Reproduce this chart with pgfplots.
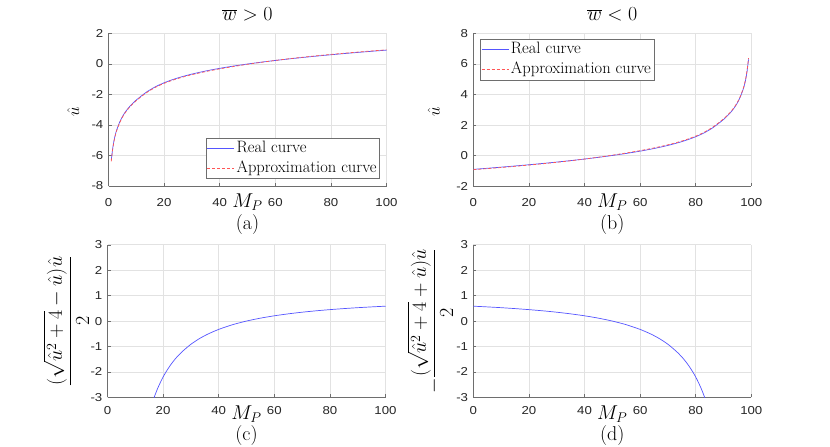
\documentclass[border=0pt]{standalone}
\usepackage{fix-cm}
\usepackage{fontspec}
\usepackage{pgfplots}
\pgfplotsset{compat=1.18}
\newfontfamily\tickfam[FakeStretch=1.15]{Liberation Sans}
\definecolor{axc}{RGB}{110,110,110}
\definecolor{gridc}{RGB}{226,226,226}
\definecolor{tickc}{RGB}{38,38,38}
\definecolor{realc}{RGB}{85,85,255}
\definecolor{appc}{RGB}{255,85,85}
\definecolor{legc}{RGB}{110,110,110}
\pgfplotsset{
 legend image code/.code={\draw[#1] (0pt,0pt) -- (27pt,0pt);},
 myax/.style={
  scale only axis, width=278pt, height=152.5pt,
  xmin=0, xmax=100, xtick={0,20,40,60,80,100},
  axis x line=bottom, axis y line=left,
  axis line style={-, draw=axc, line width=0.7pt},
  tick align=inside, major tick length=3pt,
  tick style={draw=axc, line width=0.5pt},
  grid=major, major grid style={draw=gridc, line width=0.6pt},
  tick label style={font=\tickfam\fontsize{11.5}{13}\selectfont, text=tickc, inner sep=0pt},
  /pgf/number format/assume math mode=true,
  yticklabel style={anchor=east, xshift=-5pt},
  label style={font=\fontsize{20}{21.5}\selectfont},
  xlabel style={align=center, anchor=north, inner sep=0pt, at={(axis description cs:0.5,-0.0525)}},
  ylabel style={anchor=south, inner sep=0pt},
  title style={font=\fontsize{20}{22}\selectfont, anchor=base, inner sep=0pt, at={(axis description cs:0.5,1.048)}},
  legend style={draw=legc, line width=0.6pt, fill=white, font=\fontsize{16.5}{18}\selectfont, inner sep=1pt, row sep=2pt, nodes={inner sep=2pt, text height=11pt, text depth=3.2pt}},
  legend cell align=left,
 },
 realst/.style={draw=realc, line width=0.7pt, solid, smooth, tension=0.4},
 appst/.style={draw=appc, line width=0.7pt, dash pattern=on 3pt off 2pt, smooth, tension=0.4},
}
\begin{document}
\begin{tikzpicture}
\useasboundingbox (0,0) rectangle (830pt,447pt);
% (a)
\begin{axis}[myax, at={(108.5pt,261pt)}, anchor=south west,
  ymin=-8, ymax=2, ytick={-8,-6,-4,-2,0,2},
  xticklabel style={anchor=north, yshift=-12pt},
  title={$\overline{w} > 0$},
  xlabel={$M_P$\\(a)}, ylabel={$\hat{u}$},
  ylabel style={font=\fontsize{17}{19}\selectfont, at={(axis description cs:-0.105,0.49)}},
  legend style={at={(0.976,0.046)}, anchor=south east}]
\addplot[realst] coordinates {(1,-6.30)(1.5,-5.55)(2,-5.00)(2.5,-4.60)(3,-4.30)(4,-3.82)(5,-3.45)(6,-3.16)(7,-2.92)(8,-2.71)(9,-2.53)(10,-2.36)(12,-2.07)(14,-1.80)(17,-1.48)(20,-1.23)(23,-1.027)(26,-0.855)(30,-0.660)(35,-0.457)(40,-0.284)(45,-0.134)(50,0)(55,0.121)(60,0.232)(65,0.335)(70,0.431)(75,0.521)(80,0.606)(85,0.687)(90,0.764)(95,0.838)(100,0.909)};
\addlegendentry{Real curve}
\addplot[appst] coordinates {(1,-6.38)(1.5,-5.61)(2,-5.05)(2.5,-4.65)(3,-4.34)(4,-3.86)(5,-3.49)(6,-3.20)(7,-2.96)(8,-2.75)(9,-2.57)(10,-2.40)(12,-2.11)(14,-1.84)(17,-1.52)(20,-1.27)(23,-1.067)(26,-0.895)(30,-0.700)(35,-0.497)(40,-0.320)(45,-0.165)(50,-0.02)(55,0.111)(60,0.232)(65,0.345)(70,0.446)(75,0.541)(80,0.628)(85,0.710)(90,0.788)(95,0.862)(100,0.93)};
\addlegendentry{Approximation curve}
\end{axis}
% (b)
\begin{axis}[myax, at={(473.3pt,261pt)}, anchor=south west,
  ymin=-2, ymax=8, ytick={-2,0,2,4,6,8},
  xticklabel style={anchor=north, yshift=-12pt},
  title={$\overline{w} < 0$},
  xlabel={$M_P$\\(b)}, ylabel={$\hat{u}$},
  ylabel style={font=\fontsize{17}{19}\selectfont, at={(axis description cs:-0.12,0.49)}},
  legend style={at={(0.024,0.963)}, anchor=north west}]
\addplot[realst] coordinates {(0,-0.909)(5,-0.838)(10,-0.764)(15,-0.687)(20,-0.606)(25,-0.521)(30,-0.431)(35,-0.335)(40,-0.232)(45,-0.121)(50,0)(55,0.134)(60,0.284)(65,0.457)(70,0.660)(74,0.855)(77,1.027)(80,1.23)(83,1.48)(86,1.80)(88,2.07)(90,2.36)(91,2.53)(92,2.71)(93,2.92)(94,3.16)(95,3.45)(96,3.82)(97,4.30)(97.5,4.60)(98,5.00)(98.5,5.55)(99,6.30)};
\addlegendentry{Real curve}
\addplot[appst] coordinates {(0,-0.93)(5,-0.862)(10,-0.788)(15,-0.710)(20,-0.628)(25,-0.541)(30,-0.446)(35,-0.345)(40,-0.232)(45,-0.111)(50,0.02)(55,0.165)(60,0.320)(65,0.497)(70,0.700)(74,0.895)(77,1.067)(80,1.27)(83,1.52)(86,1.84)(88,2.11)(90,2.40)(91,2.57)(92,2.75)(93,2.96)(94,3.20)(95,3.49)(96,3.86)(97,4.34)(97.5,4.65)(98,5.05)(98.5,5.61)(99,6.38)};
\addlegendentry{Approximation curve}
\end{axis}
% (c)
\begin{axis}[myax, at={(107.5pt,49.7pt)}, anchor=south west,
  ymin=-3, ymax=3, ytick={-3,-2,-1,0,1,2,3},
  xticklabel style={anchor=north, yshift=-8.5pt},
  xlabel={$M_P$\\(c)},
  ylabel={$\displaystyle\frac{(\sqrt{\hat{u}^2+4}-\hat{u})\hat{u}}{2}$},
  ylabel style={at={(axis description cs:-0.0655,0.5)}}]
\addplot[realst] coordinates {(15,-3.61)(16,-3.25)(17,-2.94)(18,-2.66)(19,-2.42)(20,-2.20)(21,-2.01)(22,-1.84)(23,-1.68)(24,-1.54)(25,-1.41)(27,-1.19)(30,-0.913)(33,-0.695)(36,-0.518)(40,-0.328)(45,-0.143)(50,0)(55,0.114)(60,0.207)(65,0.283)(70,0.348)(75,0.4025)(80,0.4495)(85,0.49)(90,0.526)(95,0.557)(100,0.585)};
\end{axis}
% (d)
\begin{axis}[myax, at={(473.3pt,49.7pt)}, anchor=south west,
  ymin=-3, ymax=3, ytick={-3,-2,-1,0,1,2,3},
  xticklabel style={anchor=north, yshift=-8.5pt},
  xlabel={$M_P$\\(d)},
  ylabel={$-\displaystyle\frac{(\sqrt{\hat{u}^2+4}+\hat{u})\hat{u}}{2}$},
  ylabel style={at={(axis description cs:-0.072,0.5)}}]
\addplot[realst] coordinates {(0,0.585)(5,0.557)(10,0.526)(15,0.49)(20,0.4495)(25,0.4025)(30,0.348)(35,0.283)(40,0.207)(45,0.114)(50,0)(55,-0.143)(60,-0.328)(64,-0.518)(67,-0.695)(70,-0.913)(73,-1.19)(75,-1.41)(76,-1.54)(77,-1.68)(78,-1.84)(79,-2.01)(80,-2.20)(81,-2.42)(82,-2.66)(83,-2.94)(84,-3.25)(85,-3.61)};
\end{axis}
\end{tikzpicture}
\end{document}
